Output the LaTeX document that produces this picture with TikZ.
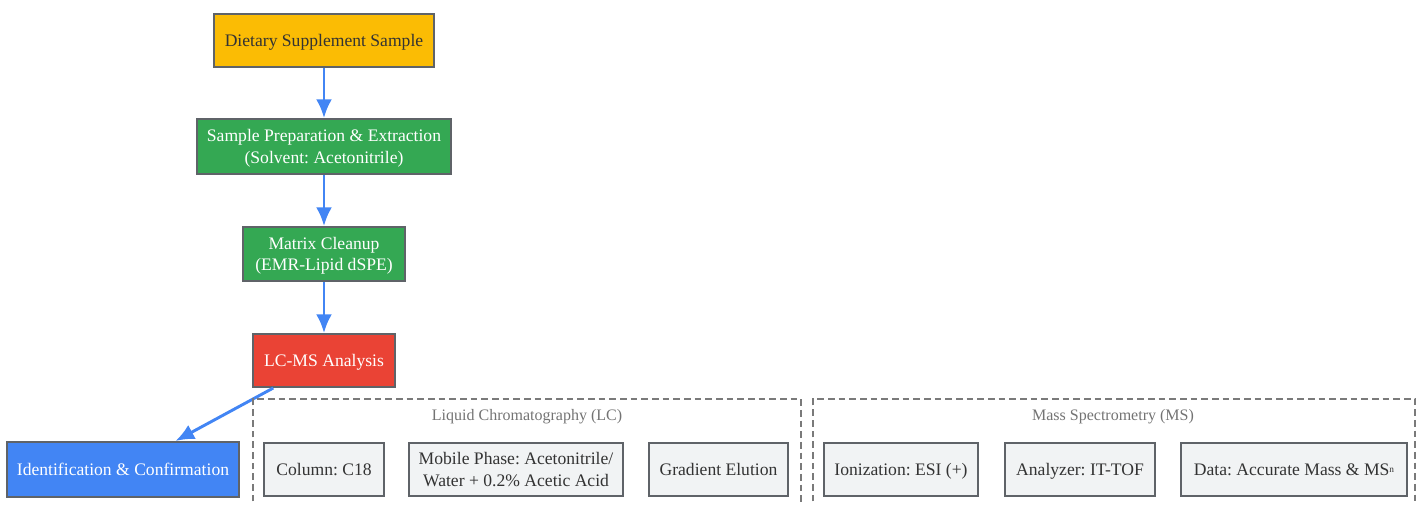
\documentclass[tikz,border=0pt]{standalone}
\usepackage{fontspec}
\setmainfont{Liberation Serif}
\usepackage{tikz}
\usetikzlibrary{arrows.meta}
\frenchspacing

\definecolor{gyellow}{HTML}{FBBC04}
\definecolor{ggreen}{HTML}{34A853}
\definecolor{gred}{HTML}{EA4335}
\definecolor{gblue}{HTML}{4285F4}
\definecolor{glight}{HTML}{F1F3F4}
\definecolor{gborder}{HTML}{5F6368}
\definecolor{gdash}{HTML}{7A7A7A}
\definecolor{gtext}{HTML}{333333}

\begin{document}
\begin{tikzpicture}[x=0.75pt,y=-0.75pt,>={Latex[length=14pt,width=12pt]},
    box/.style={draw=gborder,line width=1.5pt,inner sep=0pt,align=center,
        font=\fontsize{13.2}{15.8}\selectfont,text height=11.9pt,text depth=2.9pt},
    twolines/.style={text height=27.7pt},
    darkbox/.style={box,text=white},
    lightbox/.style={box,fill=glight,text=gtext,minimum height=39.75pt},
    flow/.style={->,gblue,line width=2.2pt},
    group/.style={draw=gdash,dash pattern=on 5pt off 3pt,line width=0.9pt},
    grouplabel/.style={text=gray!90!black,font=\fontsize{12}{14}\selectfont,
        text height=10.8pt,text depth=2.6pt}]
        \useasboundingbox (0,0) rectangle (1420,505);

        % main chain
        \node[box,fill=gyellow,text=gtext,minimum width=165pt,minimum height=39.75pt]
            (diet) at (324,40.5) {Dietary Supplement Sample};
        \node[darkbox,twolines,fill=ggreen,minimum width=190.5pt,minimum height=41.25pt]
            (prep) at (324,146.5) {Sample Preparation \& Extraction\\(Solvent: Acetonitrile)};
        \node[darkbox,twolines,fill=ggreen,minimum width=121.5pt,minimum height=40.5pt]
            (clean) at (324,254) {Matrix Cleanup\\(EMR-Lipid dSPE)};
        \node[darkbox,fill=gred,minimum width=106.5pt,minimum height=39.75pt]
            (lcms) at (324,360.5) {LC-MS Analysis};
        \node[darkbox,fill=gblue,minimum width=174pt,minimum height=41.25pt]
            (ident) at (123,469.5) {Identification \& Confirmation};

        \foreach \a/\b in {diet/prep,prep/clean,clean/lcms,lcms/ident}
        {
            \draw[flow] (\a)--(\b);
        }

        % LC group
        \draw[group] (253,512)--(253,399)--(801,399)--(801,512);
        \node[grouplabel] (lclabel) at (527,415) {Liquid Chromatography (LC)};
        \node[lightbox,minimum width=90pt] (lc1) at (324,469.5) {Column: C18};
        \node[lightbox,twolines,minimum width=160.5pt] (lc2) at (516,469.5)
            {Mobile Phase: Acetonitrile/\\Water + 0.2\% Acetic Acid};
        \node[lightbox,minimum width=104.25pt] (lc3) at (718.5,469.5) {Gradient Elution};

        % MS group
        \draw[group] (813,512)--(813,399)--(1415,399)--(1415,512);
        \node[grouplabel] (mslabel) at (1113,415) {Mass Spectrometry (MS)};
        \node[lightbox,minimum width=115.5pt] (ms1) at (901,469.5) {Ionization: ESI (+)};
        \node[lightbox,minimum width=112.5pt] (ms2) at (1080,469.5) {Analyzer: IT-TOF};
        \node[lightbox,minimum width=169.5pt] (ms3) at (1294,469.5)
            {Data: Accurate Mass \& MS\raisebox{0.4ex}{\scriptsize n}};
\end{tikzpicture}
\end{document}
